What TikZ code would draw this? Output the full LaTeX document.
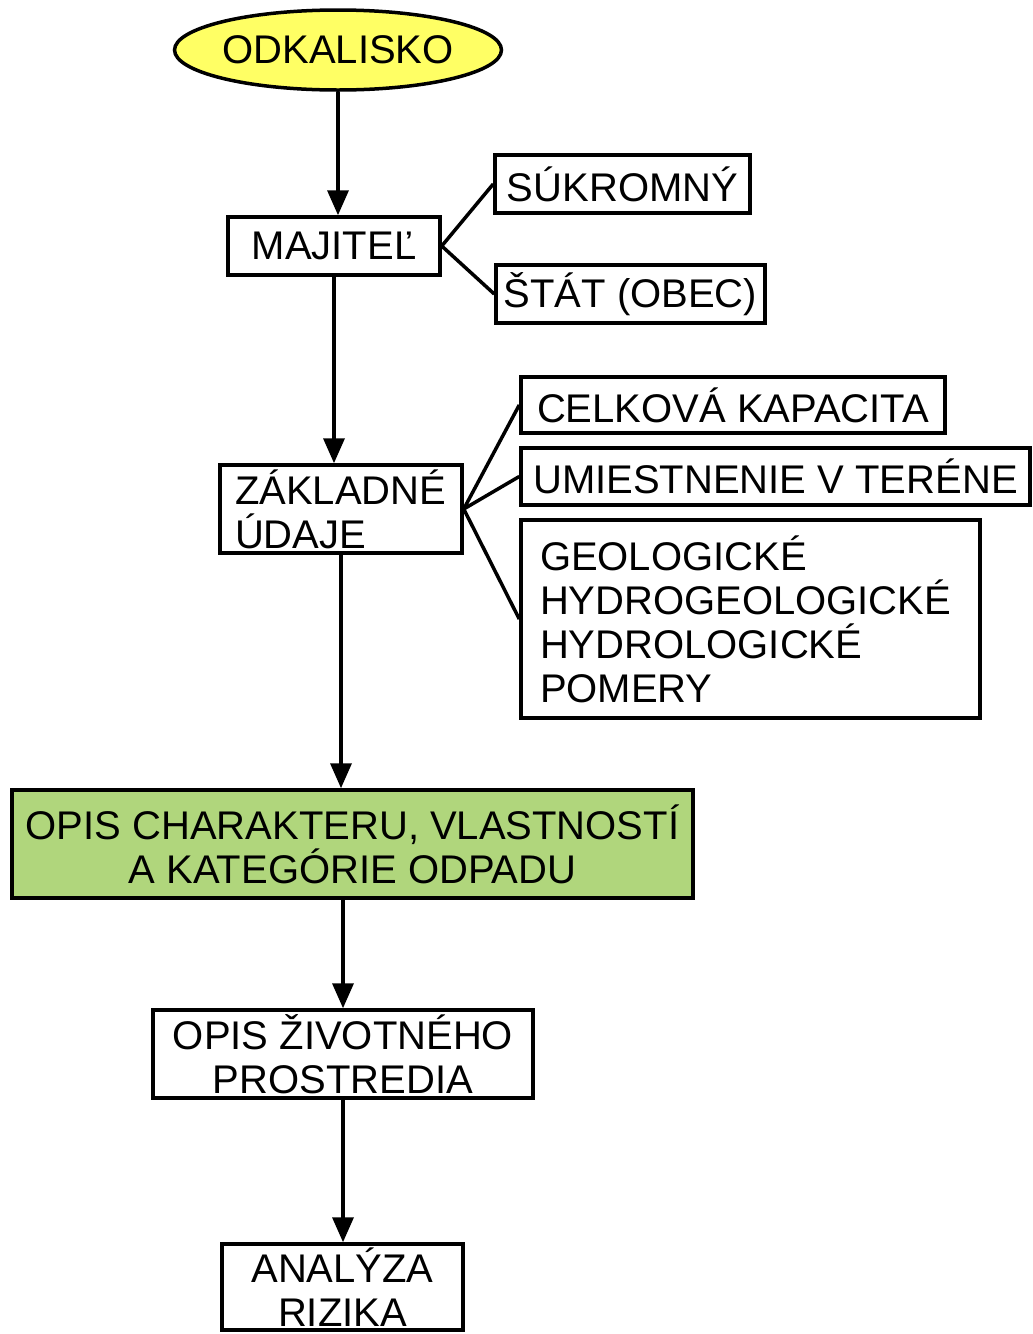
\documentclass[tikz,border=0pt]{standalone}
\usepackage{fontspec}
\setmainfont{Liberation Sans}
\usetikzlibrary{positioning,shapes.geometric,arrows.meta}
\definecolor{odkyellow}{RGB}{255,255,100}
\definecolor{odpgreen}{RGB}{176,214,124}

\begin{document}
\begin{tikzpicture}[-{Triangle[length=25pt,width=21pt]},line width=3.5pt,
                    box/.style={draw,rectangle,inner sep=0pt,
                      font=\fontsize{40}{44}\selectfont},
                    start node/.style={draw,ellipse,fill=odkyellow,inner sep=0pt,
                      minimum width=301pt,minimum height=80pt,
                      font=\fontsize{40}{44}\selectfont}]

        \useasboundingbox (0,0) rectangle (1033pt,-1334pt);

        % main column
        \node[start node] (odk) at (338pt,-50pt) {ODKALISKO};
        \node[box,minimum width=212pt,minimum height=58pt] (maj)
            [below of=odk,node distance=196pt,xshift=-4pt] {MAJITEĽ};
        \node[box,minimum width=242pt,minimum height=88pt,
              text width=212pt,align=left] (zak)
            [below of=maj,node distance=263pt,xshift=7pt] {ZÁKLADNÉ\\ÚDAJE};
        \node[box,fill=odpgreen,minimum width=681pt,minimum height=108pt,align=center] (opis)
            [below of=zak,node distance=335pt,xshift=11.5pt]
            {OPIS CHARAKTERU, VLASTNOSTÍ\\A KATEGÓRIE ODPADU};
        \node[box,minimum width=380pt,minimum height=88pt,align=center] (ziv)
            [below of=opis,node distance=210pt,xshift=-9.5pt] {OPIS ŽIVOTNÉHO\\PROSTREDIA};
        \node[box,minimum width=241pt,minimum height=86pt,align=center] (ana)
            [below of=ziv,node distance=233pt,xshift=-0.5pt] {ANALÝZA\\RIZIKA};

        % side boxes
        \node[box,minimum width=255pt,minimum height=58pt] (suk)
            [right of=maj,node distance=288.5pt,yshift=62pt] {SÚKROMNÝ};
        \node[box,minimum width=269pt,minimum height=58pt] (stat)
            [right of=maj,node distance=296.5pt,yshift=-48pt] {ŠTÁT (OBEC)};
        \node[box,minimum width=424pt,minimum height=56pt] (cel)
            [right of=zak,node distance=392pt,yshift=104pt] {CELKOVÁ KAPACITA};
        \node[box,minimum width=509pt,minimum height=57pt] (umi)
            [right of=zak,node distance=434.5pt,yshift=32.5pt] {UMIESTNENIE V TERÉNE};
        \node[box,minimum width=459pt,minimum height=198pt,
              text width=421pt,align=left] (geo)
            [right of=zak,node distance=409.5pt,yshift=-110pt]
            {GEOLOGICKÉ\\HYDROGEOLOGICKÉ\\HYDROLOGICKÉ\\POMERY};

        \path
            (odk.south) edge (odk |- maj.north)
            (maj.south) edge (maj |- zak.north)
            (zak.south) edge (zak |- opis.north)
            (ziv |- opis.south) edge (ziv.north)
            (ziv.south) edge (ziv |- ana.north);

        \path[-]
            (maj.east) edge (suk.west)
            (maj.east) edge (stat.west)
            (zak.east) edge (cel.west)
            (zak.east) edge (umi.west)
            (zak.east) edge (geo.west);

        \end{tikzpicture}
\end{document}
